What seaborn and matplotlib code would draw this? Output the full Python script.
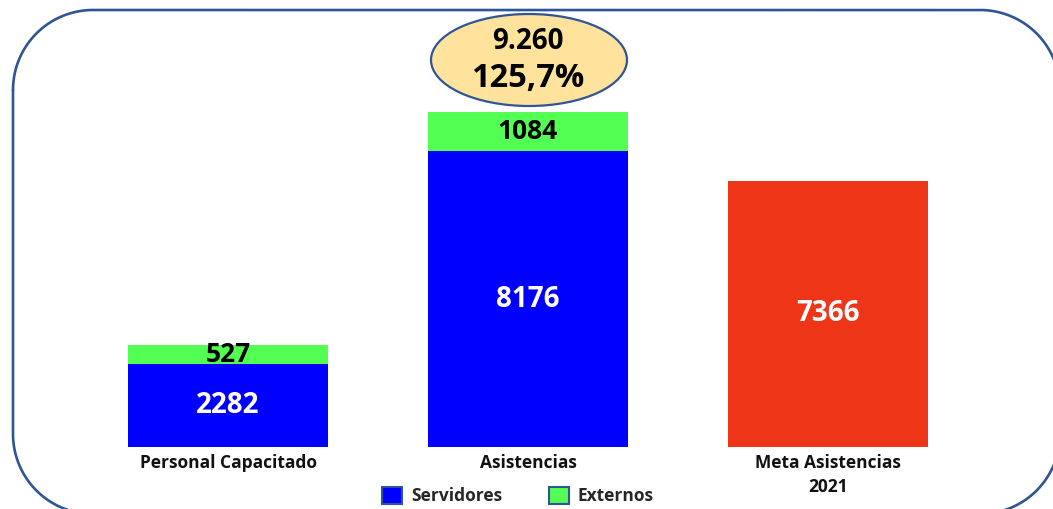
import matplotlib
matplotlib.use("Agg")
import matplotlib.pyplot as plt
import seaborn as sns
import pandas as pd
import numpy as np
from matplotlib.patches import Ellipse, Patch

# ---- data ----
categories = ["Personal Capacitado", "Asistencias", "Meta Asistencias\n2021"]
servidores = [2282, 8176, 0]
externos = [527, 1084, 0]
meta = [0, 0, 7366]
total_label = "9.260"
pct_label = "125,7%"
legend_labels = ["Servidores", "Externos"]

BLUE = "#0000FF"
GREEN = "#52FF52"
RED = "#EE3517"
EDGE = "#2F5597"

sns.set_theme(style="white")
plt.rcParams["font.family"] = ["Open Sans", "DejaVu Sans"]
plt.rcParams["font.weight"] = "bold"

W, H = 1053, 509
fig = plt.figure(figsize=(W / 100, H / 100), dpi=100)

base_px = 447
ax = fig.add_axes([0, (H - base_px) / H, 1, base_px / H])
ax.set_facecolor("none")

tops = [s + e + m for s, e, m in zip(servidores, externos, meta)]
df = pd.DataFrame({
    "cat": categories,
    "top": tops,
    "servidores": servidores,
})
top_colors = {c: (RED if m > 0 else GREEN) for c, m in zip(categories, meta)}

sns.barplot(data=df, x="cat", y="top", hue="cat", palette=top_colors,
            width=0.667, saturation=1, legend=False, ax=ax, linewidth=0)
sns.barplot(data=df, x="cat", y="servidores", color=BLUE,
            width=0.667, saturation=1, ax=ax, linewidth=0)

px_per_unit = (447 - 112) / 9260
ax.set_ylim(0, base_px / px_per_unit)
ax.set_xlim(-228 / 300, (W - 228) / 300)
for s in ax.spines.values():
    s.set_visible(False)
ax.set_yticks([])
ax.set_xlabel("")
ax.set_ylabel("")
ax.tick_params(axis="x", length=0, pad=5)
ax.set_xticks(range(len(categories)))
ax.set_xticklabels(categories, fontsize=12.5, fontweight="bold", color="#111111",
                   linespacing=1.45)

# value labels
for i, (s, e, m) in enumerate(zip(servidores, externos, meta)):
    if s:
        ax.text(i, s / 2, f"{s}", ha="center", va="center", color="white",
                fontsize=20, fontweight="bold")
    if e:
        ax.text(i, s + e / 2, f"{e}", ha="center", va="center", color="black",
                fontsize=19, fontweight="bold")
    if m:
        ax.text(i, m / 2, f"{m}", ha="center", va="center", color="white",
                fontsize=20, fontweight="bold")

# overlay for frame and callout (pixel coords, y measured from top)
ov = fig.add_axes([0, 0, 1, 1], zorder=5)
ov.set_xlim(0, W)
ov.set_ylim(H, 0)
ov.axis("off")
ov.patch.set_alpha(0)

# rounded frame outline
x0, x1, y0, y1, r = 13, 1060, 10, 514, 80
t = np.linspace(0, np.pi / 2, 40)
xs = np.concatenate([
    x0 + r - r * np.cos(t),            # top-left
    x1 - r + r * np.sin(t),            # top-right
    x1 - r + r * np.cos(t),            # bottom-right
    x0 + r - r * np.sin(t),            # bottom-left
    [x0],
])
ys = np.concatenate([
    y0 + r - r * np.sin(t),
    y0 + r - r * np.cos(t),
    y1 - r + r * np.sin(t),
    y1 - r + r * np.cos(t),
    [y0 + r],
])
ov.plot(xs, ys, color=EDGE, linewidth=1.9, solid_capstyle="round")

ov.add_patch(Ellipse((529, 60), 196, 92, facecolor="#FFE29B", edgecolor=EDGE,
                     linewidth=1.6))
ov.text(528, 41, total_label, ha="center", va="center", fontsize=20,
        fontweight="bold", color="black")
ov.text(528, 78, pct_label, ha="center", va="center", fontsize=23.5,
        fontweight="bold", color="black")

handles = [Patch(facecolor=BLUE, edgecolor=EDGE, linewidth=1.5),
           Patch(facecolor=GREEN, edgecolor=EDGE, linewidth=1.5)]
fig.legend(handles, legend_labels, loc="center", ncol=2,
           bbox_to_anchor=(518 / W, 1 - 496 / H), frameon=False,
           prop={"size": 12.5, "weight": "bold"}, handlelength=1.15,
           handleheight=1.15, handletextpad=0.5, columnspacing=2.7)

fig.savefig("out.png", dpi=100)
